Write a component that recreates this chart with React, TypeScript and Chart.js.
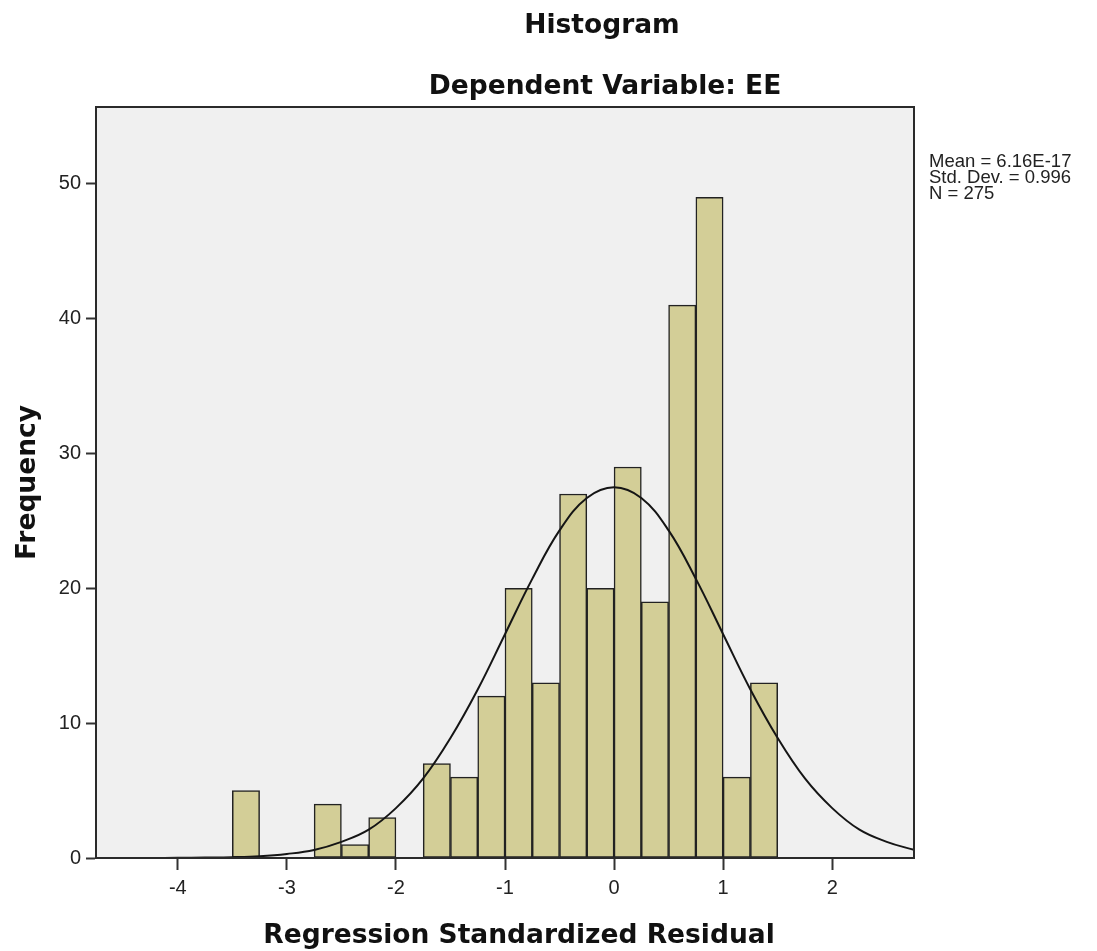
import React, { useEffect, useRef } from "react";
import { Chart, registerables } from "chart.js";

Chart.register(...registerables);

// ---- data ----
const binStarts = [-3.5, -3.25, -3.0, -2.75, -2.5, -2.25, -2.0, -1.75, -1.5, -1.25, -1.0, -0.75, -0.5, -0.25, 0.0, 0.25, 0.5, 0.75, 1.0, 1.25];
const binCounts = [5, 0, 0, 4, 1, 3, 0, 7, 6, 12, 20, 13, 27, 20, 29, 19, 41, 49, 6, 13];
const binWidth = 0.25;

// normal curve
const curveX = [-4.75, -4.5, -4.25, -4.0, -3.75, -3.5, -3.25, -3.0, -2.75, -2.5, -2.25, -2.0, -1.75, -1.5, -1.25, -1.0, -0.75, -0.5, -0.25, 0.0, 0.25, 0.5, 0.75, 1.0, 1.25, 1.5, 1.75, 2.0, 2.25, 2.5, 2.75];
const curveY = [0.0, 0.0, 0.0, 0.01, 0.03, 0.06, 0.13, 0.3, 0.6, 1.2, 2.1, 3.7, 5.9, 8.9, 12.5, 16.6, 20.7, 24.3, 26.7, 27.5, 26.7, 24.3, 20.7, 16.6, 12.5, 8.9, 5.9, 3.7, 2.1, 1.2, 0.6];

const xTicks = [-4, -3, -2, -1, 0, 1, 2];
const yTicks = [0, 10, 20, 30, 40, 50];
const xMin = -4.75;
const xMax = 2.75;
const yMax = 55.7;

const titleText = "Histogram";
const subtitleText = "Dependent Variable: EE";
const xTitle = "Regression Standardized Residual";
const yTitle = "Frequency";
const statsLines = ["Mean = 6.16E-17", "Std. Dev. = 0.996", "N = 275"];

const W = 1097;
const H = 951;

const decorPlugin = {
  id: "decor",
  beforeDatasetsDraw(chart: any) {
    const { ctx, chartArea: a } = chart;
    ctx.save();
    ctx.fillStyle = "#f0f0f0";
    ctx.fillRect(a.left, a.top, a.right - a.left, a.bottom - a.top);
    ctx.restore();
  },
  afterDatasetsDraw(chart: any) {
    const { ctx, chartArea: a } = chart;
    ctx.save();
    ctx.strokeStyle = "#2a2a2a";
    ctx.lineWidth = 2;
    ctx.strokeRect(a.left, a.top, a.right - a.left, a.bottom - a.top);
    ctx.restore();
  },
  afterDraw(chart: any) {
    const { ctx, chartArea: a } = chart;
    ctx.save();
    ctx.fillStyle = "#111";
    ctx.textAlign = "center";
    ctx.textBaseline = "alphabetic";
    ctx.font = 'bold 26.5px "DejaVu Sans"';
    ctx.fillText(titleText, 602, 33);
    ctx.fillText(subtitleText, 605, 94);
    ctx.fillText(xTitle, 519, 943);
    ctx.save();
    ctx.translate(35, (a.top + a.bottom) / 2);
    ctx.rotate(-Math.PI / 2);
    ctx.fillText(yTitle, 0, 0);
    ctx.restore();
    ctx.textAlign = "left";
    ctx.font = '18.5px "Liberation Sans"';
    ctx.fillStyle = "#222";
    statsLines.forEach((s, i) => ctx.fillText(s, a.right + 15, 167 + i * 16));
    ctx.restore();
  },
};

export default function App() {
  const ref = useRef<HTMLCanvasElement>(null);
  useEffect(() => {
    if (!ref.current) return;
    const chart = new Chart(ref.current, {
      type: "bar",
      data: {
        datasets: [
          {
            type: "line",
            data: curveX.map((x, i) => ({ x, y: curveY[i] })),
            borderColor: "#151515",
            borderWidth: 2,
            pointRadius: 0,
            tension: 0.4,
            fill: false,
            order: 0,
          } as any,
          {
            type: "bar",
            data: binStarts.map((s, i) => ({ x: s + binWidth / 2, y: binCounts[i] })),
            backgroundColor: "#d3ce97",
            borderColor: "#222222",
            borderWidth: 1.5,
            borderSkipped: false,
            barPercentage: 1,
            categoryPercentage: 1,
            order: 1,
          } as any,
        ],
      },
      options: {
        responsive: false,
        animation: false,
        events: [],
        layout: { padding: { left: 0, right: 183, top: 107, bottom: 0 } },
        plugins: { legend: { display: false }, title: { display: false }, tooltip: { enabled: false } },
        scales: {
          x: {
            type: "linear",
            offset: false,
            min: xMin,
            max: xMax,
            afterBuildTicks: (s: any) => {
              s.ticks = xTicks.map((v) => ({ value: v }));
            },
            afterFit: (s: any) => {
              s.height = 93;
            },
            grid: { offset: false, drawOnChartArea: false, drawTicks: true, tickLength: 12, tickColor: "#333", tickWidth: 2 },
            border: { display: true, color: "#2a2a2a", width: 2 },
            ticks: { font: { family: "Liberation Sans", size: 20 }, color: "#222", padding: 6, maxRotation: 0 },
          },
          y: {
            type: "linear",
            min: 0,
            max: yMax,
            afterBuildTicks: (s: any) => {
              s.ticks = yTicks.map((v) => ({ value: v }));
            },
            afterFit: (s: any) => {
              s.width = 96;
            },
            grid: { drawOnChartArea: false, drawTicks: true, tickLength: 10, tickColor: "#333", tickWidth: 2 },
            border: { display: true, color: "#2a2a2a", width: 2 },
            ticks: { font: { family: "Liberation Sans", size: 20 }, color: "#222", padding: 5 },
          },
        },
      },
      plugins: [decorPlugin],
    });
    return () => chart.destroy();
  }, []);
  return (
    <div style={{ position: "absolute", left: 0, top: 0, width: W, height: H, background: "#fff" }}>
      <canvas ref={ref} width={W} height={H} style={{ width: W, height: H, display: "block" }} />
    </div>
  );
}
